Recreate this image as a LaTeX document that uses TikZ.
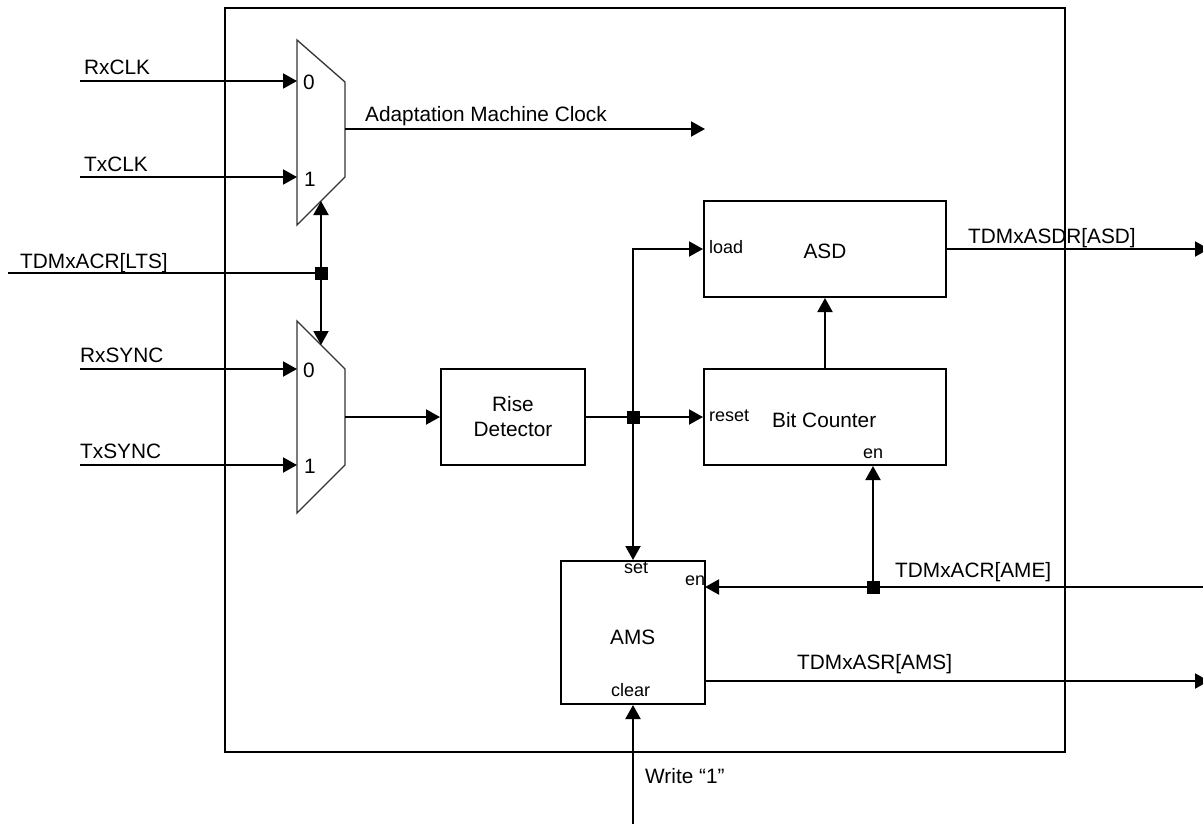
\documentclass[tikz,border=0pt]{standalone}
\usepackage{fontspec}
\setmainfont{Liberation Sans}
\usetikzlibrary{arrows.meta}
\begin{document}
\begin{tikzpicture}[x=1pt,y=-1pt,
  wire/.style={line width=2pt},
  arr/.style={wire,-{Triangle[length=14pt,width=15pt]}},
  box/.style={draw,line width=2pt,rectangle,inner sep=0pt},
  muxline/.style={line width=1.3pt,draw=black!80},
  big/.style={font=\fontsize{20.8}{25}\selectfont,inner sep=0pt},
  small/.style={font=\fontsize{18}{21}\selectfont,inner sep=0pt},
  junction/.style={fill,rectangle,minimum size=13pt,inner sep=0pt}
]
\useasboundingbox (0,0) rectangle (1203,823);
\fill[white] (0,0) rectangle (1203,823);
\draw[line width=2pt] (225,8) rectangle (1065,752);

% multiplexers
\draw[muxline] (297,40) -- (345,82) -- (345,177) -- (297,225) -- cycle;
\draw[muxline] (297,321) -- (345,369) -- (345,465) -- (297,513) -- cycle;

% coordinates
\coordinate (rxclk) at (80,81);
\coordinate (txclk) at (80,177);
\coordinate (m1i0) at (297,81);
\coordinate (m1i1) at (297,177);
\coordinate (m1s) at (321,201);
\coordinate (m1o) at (345,129);
\coordinate (amc) at (705,129);
\coordinate (lts) at (8,273);
\coordinate (rxsync) at (80,369);
\coordinate (txsync) at (80,465);
\coordinate (m2i0) at (297,369);
\coordinate (m2i1) at (297,465);
\coordinate (m2s) at (321,345);
\coordinate (m2o) at (345,417);
\coordinate (asdout) at (1209,249);
\coordinate (amein) at (1203,587);
\coordinate (amsen) at (705,587);
\coordinate (amsout) at (1209,681);
\coordinate (write) at (633,830);

% boxes
\node[box,minimum width=144pt,minimum height=96pt,big,align=center] (rise) at (513,417) {Rise\\Detector};
\node[box,minimum width=242pt,minimum height=96pt] (asd) at (825,249) {};
\node[box,minimum width=242pt,minimum height=96pt] (bc) at (825,417) {};
\node[box,minimum width=144pt,minimum height=143pt] (ams) at (633,632.5) {};

% junctions
\node[junction] (j1) at (321,273) {};
\node[junction] (j2) at (633,417) {};
\node[junction] (j3) at (873,587) {};

% connectors
\draw[arr] (rxclk) -- (m1i0);
\draw[arr] (txclk) -- (m1i1);
\draw[arr] (rxsync) -- (m2i0);
\draw[arr] (txsync) -- (m2i1);
\draw[wire] (lts) -- (j1.center);
\draw[arr] (j1.center) -- (m1s);
\draw[arr] (j1.center) -- (m2s);
\draw[arr] (m1o) -- (amc);
\draw[arr] (m2o) -- (rise.west);
\draw[wire] (rise.east) -- (j2.center);
\draw[arr] (j2.center) -- (bc.west);
\draw[arr] (j2.center) |- (asd.west);
\draw[arr] (j2.center) -- (ams.north);
\draw[arr] (bc.north) -- (asd.south);
\draw[arr] (asd.east) -- (asdout);
\draw[arr] (amein) -- (amsen);
\draw[arr] (j3.center) -- (j3.center |- bc.south);
\draw[arr] (ams.east |- amsout) -- (amsout);
\draw[arr] (write) -- (ams.south);

% labels
\node[big,anchor=base west] (lrxclk) at (84,74) {RxCLK};
\node[big,anchor=base west] (ltxclk) at (84,171) {TxCLK};
\node[big,anchor=base west] (llts) at (20,268) {TDMxACR[LTS]};
\node[big,anchor=base west] (lrxsync) at (80,362) {RxSYNC};
\node[big,anchor=base west] (ltxsync) at (80,458) {TxSYNC};
\node[big,anchor=base west] (l10) at (303,89) {0};
\node[big,anchor=base west] (l11) at (304,186) {1};
\node[big,anchor=base west] (l20) at (303,377) {0};
\node[big,anchor=base west] (l21) at (304,473) {1};
\node[big,anchor=base west] (lamc) at (365,121) {Adaptation Machine Clock};
\node[big,anchor=base west] (lasdr) at (968,243) {TDMxASDR[ASD]};
\node[big,anchor=base west] (lame) at (895,577) {TDMxACR[AME]};
\node[big,anchor=base west] (lasr) at (797,669) {TDMxASR[AMS]};
\node[big,anchor=base west] (lwrite) at (645,783) {Write “1”};
\node[big,anchor=base] (lasd) at (825,258) {ASD};
\node[big,anchor=base west] (lbc) at (772,427) {Bit Counter};
\node[big,anchor=base west] (lams) at (610,644) {AMS};
\node[small,anchor=base west] (lload) at (709,253) {load};
\node[small,anchor=base west] (lreset) at (709,421) {reset};
\node[small,anchor=base west] (lbcen) at (863,458) {en};
\node[small,anchor=base west] (lset) at (624,573) {set};
\node[small,anchor=base west] (lamsen) at (685,585) {en};
\node[small,anchor=base west] (lclear) at (611,696) {clear};
\end{tikzpicture}
\end{document}
